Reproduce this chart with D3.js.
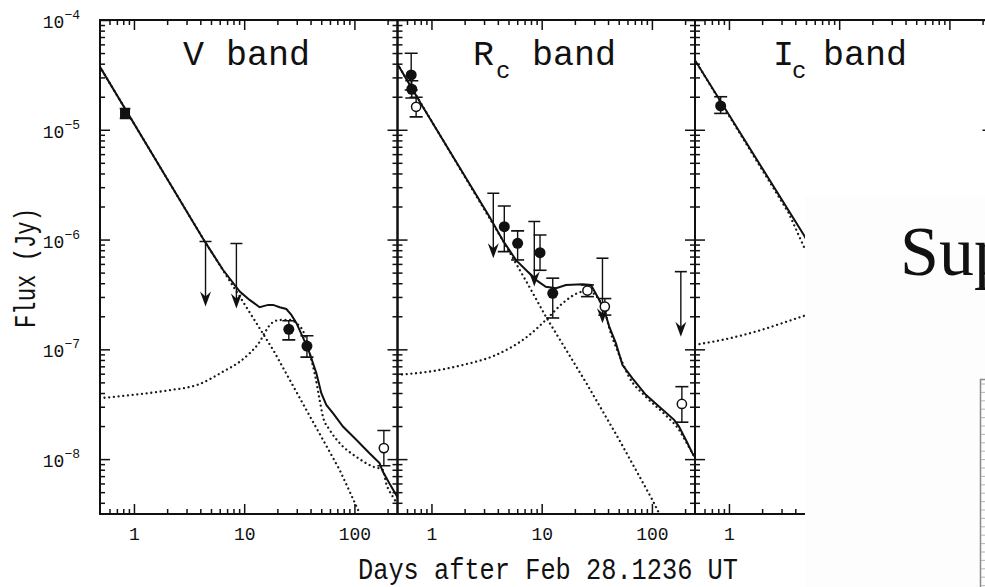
<!DOCTYPE html>
<html><head><meta charset="utf-8">
<script src="https://cdn.jsdelivr.net/npm/d3@7"></script>
<style>body{margin:0;background:#fff}svg{display:block}</style>
</head><body>
<svg id="c" width="985" height="587"></svg>
<script>
// ---------------- data (days after Feb 28.1236 UT, flux in Jy) ----------------
const xTickMajor = [1, 10, 100];
const xTickMinor = [0.6,0.7,0.8,0.9,2,3,4,5,6,7,8,9,20,30,40,50,60,70,80,90,200];
const yTickExp = [-4, -5, -6, -7, -8];

// V band
const vTotal = [[0.49,3.76e-5],[4.40,9.57e-7],[6.44,5.28e-7],[9.12,3.36e-7],[11.2,2.82e-7],[13.8,2.42e-7],[16.5,2.54e-7],[18.3,2.54e-7],[21.0,2.42e-7],[24.1,2.33e-7],[26.8,2.06e-7],[29.8,1.73e-7],[35.4,1.18e-7],[39.3,9.2e-8],[45.2,6.05e-8],[50.1,3.98e-8],[55.6,3.12e-8],[63.9,2.62e-8],[78.7,1.98e-8],[104,1.50e-8],[137,1.13e-8],[169,9.2e-9],[181,7.7e-9],[208,6.0e-9],[246,4.5e-9]];
const vAfterglow = [[0.49,3.76e-5],[4.40,9.57e-7],[9.12,3.02e-7],[18.3,9.9e-8],[36.7,2.8e-8],[73.4,8.0e-9],[108,3.44e-9],[120,2.7e-9]];
const vSupernova = [[0.49,3.59e-8],[0.99,3.85e-8],[1.98,4.21e-8],[3.96,4.84e-8],[6.44,6.27e-8],[9.12,7.73e-8],[11.2,9.2e-8],[13.8,1.17e-7],[15.9,1.50e-7],[17.7,1.73e-7],[21.0,1.85e-7],[25.9,1.85e-7],[29.8,1.73e-7],[35.4,1.35e-7],[39.3,9.2e-8],[43.6,6.05e-8],[48.4,3.46e-8],[51.8,2.44e-8],[59.6,1.85e-8],[73.4,1.40e-8],[104,1.05e-8],[147,8.55e-9],[181,7.98e-9],[194,6.03e-9],[223,4.55e-9],[246,3.9e-9]];
const vDetections = [
  {t:0.83, f:1.41e-5, lo:1.27e-5, hi:1.56e-5, open:false, square:true},
  {t:25.4, f:1.52e-7, lo:1.22e-7, hi:1.82e-7, open:false},
  {t:37.1, f:1.07e-7, lo:8.5e-8,  hi:1.33e-7, open:false},
  {t:185,  f:1.26e-8, lo:8.7e-9,  hi:1.82e-8, open:true}
];
const vLimits = [[4.46,9.6e-7],[8.5,9.2e-7]];

// Rc band
const rTotal = [[0.49,4.0e-5],[0.834,1.62e-5],[3.35,1.62e-6],[4.42,9.9e-7],[5.85,6.5e-7],[7.72,4.93e-7],[8.87,4.29e-7],[10.9,3.72e-7],[13.5,3.6e-7],[16.6,3.86e-7],[23.5,3.92e-7],[28.0,3.86e-7],[32.1,3.02e-7],[36.9,2.29e-7],[41.0,1.61e-7],[47.1,1.14e-7],[54.1,7.2e-8],[66.6,5.45e-8],[88.1,3.85e-8],[116,3.01e-8],[159,2.28e-8],[176,1.98e-8],[203,1.50e-8],[233,1.13e-8],[246,1.05e-8]];
const rAfterglow = [[0.49,4.0e-5],[4.42,9.9e-7],[7.72,3.72e-7],[10.9,1.99e-7],[25.2,5.0e-8],[50.5,1.50e-8],[101,4.25e-9],[120,3.0e-9]];
const rSupernova = [[0.49,5.85e-8],[0.96,6.27e-8],[1.92,7.2e-8],[3.86,8.9e-8],[7.72,1.35e-7],[10.9,1.85e-7],[15.5,2.63e-7],[21.9,3.30e-7],[26.0,3.40e-7],[33.2,2.82e-7],[37.7,2.19e-7],[41.0,1.57e-7],[50.5,8.9e-8],[62.1,5.6e-8],[88.1,3.7e-8],[134,2.5e-8],[176,1.85e-8],[203,1.45e-8],[246,1.02e-8]];
const rDetections = [
  {t:0.655, f:3.16e-5, lo:2.3e-5,  hi:4.98e-5, open:false},
  {t:0.663, f:2.34e-5, lo:1.95e-5, hi:2.8e-5,  open:false},
  {t:0.726, f:1.62e-5, lo:1.31e-5, hi:1.98e-5, open:true},
  {t:4.58,  f:1.31e-6, lo:7.76e-7, hi:2.02e-6, open:false},
  {t:6.05,  f:9.25e-7, lo:6.52e-7, hi:1.20e-6, open:false},
  {t:9.66,  f:7.6e-7,  lo:5.25e-7, hi:1.10e-6, open:false},
  {t:12.6,  f:3.24e-7, lo:1.93e-7, hi:4.45e-7, open:false},
  {t:26.0,  f:3.43e-7, lo:3.02e-7, hi:3.86e-7, open:true},
  {t:37.4,  f:2.45e-7, lo:2.05e-7, hi:2.9e-7,  open:true},
  {t:187,   f:3.18e-8, lo:2.17e-8, hi:4.57e-8, open:true}
];
const rLimits = [[3.64,2.64e-6],[8.57,1.46e-6],[35.6,6.76e-7],[183,5.1e-7]];

// Ic band
const iTotal = [[0.49,4.33e-5],[4.78,1.10e-6],[5.5,8.5e-7]];
const iAfterglow = [[0.49,4.33e-5],[3.49,1.74e-6],[4.78,8.6e-7],[5.5,6.6e-7]];
const iSupernova = [[0.49,1.10e-7],[0.87,1.22e-7],[1.75,1.45e-7],[3.04,1.73e-7],[4.61,1.99e-7],[5.5,2.1e-7]];
const iDetections = [{t:0.841, f:1.65e-5, lo:1.41e-5, hi:2.0e-5, open:false}];
const iLimits = [];

const bandNames = [['V',''], ['R','c'], ['I','c']];

// ---------------- layout ----------------
const svg = d3.select('#c');
const panelLeft = [100, 397.5, 695], panelW = 297.5, yTop = 20, yBot = 514;
const MONO = "'Liberation Mono','Courier New',monospace";
const INK = '#111';
const y = d3.scaleLog().domain([Math.pow(10,-8.5), 1e-4]).range([yBot, yTop]);
const xs = panelLeft.map(l => d3.scaleLog().domain([0.492, 246]).range([l, l + panelW]));

const bands = [
  {total:vTotal, ag:vAfterglow, sn:vSupernova, det:vDetections, lim:vLimits},
  {total:rTotal, ag:rAfterglow, sn:rSupernova, det:rDetections, lim:rLimits},
  {total:iTotal, ag:iAfterglow, sn:iSupernova, det:iDetections, lim:iLimits}
];

const defs = svg.append('defs');
bands.forEach((b, i) => {
  defs.append('clipPath').attr('id', 'clip' + i).append('rect')
    .attr('x', panelLeft[i]).attr('y', yTop).attr('width', panelW).attr('height', yBot - yTop);
});

bands.forEach((b, i) => {
  const x = xs[i];
  const g = svg.append('g').attr('clip-path', `url(#clip${i})`);
  const line = d3.line().x(d => x(d[0])).y(d => y(d[1]));
  const smooth = d3.line().x(d => x(d[0])).y(d => y(d[1])).curve(d3.curveMonotoneX);
  [line(b.ag), smooth(b.sn)].forEach(dd => g.append('path').attr('d', dd).attr('fill','none')
     .attr('stroke','#1a1a1a').attr('stroke-width',2.3).attr('stroke-linecap','round')
     .attr('stroke-dasharray','0.01,4.7'));
  g.append('path').attr('d', line(b.total)).attr('fill','none').attr('stroke',INK).attr('stroke-width',2);

  b.lim.forEach(l => {
    const cx = x(l[0]), cy = y(l[1]), len = 65;
    g.append('line').attr('x1',cx).attr('x2',cx).attr('y1',cy).attr('y2',cy+len-4).attr('stroke',INK).attr('stroke-width',1.4);
    g.append('line').attr('x1',cx-6).attr('x2',cx+6).attr('y1',cy).attr('y2',cy).attr('stroke',INK).attr('stroke-width',1.6);
    g.append('path').attr('d',`M${cx},${cy+len} L${cx-5.5},${cy+len-15} L${cx},${cy+len-10} L${cx+5.5},${cy+len-15} Z`).attr('fill',INK);
  });
  b.det.forEach(p => {
    const cx = x(p.t), cy = y(p.f);
    const cw = p.square ? 5.3 : 6.5;
    g.append('line').attr('x1',cx).attr('x2',cx).attr('y1',y(p.lo)).attr('y2',y(p.hi)).attr('stroke',INK).attr('stroke-width',1.4);
    [p.lo, p.hi].forEach(v => g.append('line').attr('x1',cx-cw).attr('x2',cx+cw).attr('y1',y(v)).attr('y2',y(v)).attr('stroke',INK).attr('stroke-width',1.6));
    if (p.square) {
      g.append('rect').attr('x',cx-5).attr('y',cy-5).attr('width',10).attr('height',10).attr('fill',INK);
    } else {
      g.append('circle').attr('cx',cx).attr('cy',cy).attr('r', p.open ? 4.6 : 5.5)
        .attr('fill', p.open ? '#fff' : INK).attr('stroke',INK).attr('stroke-width', p.open ? 1.5 : 0);
    }
  });
});

const yMinor = [];
for (let e = -9; e <= -5; e++) for (let m = 2; m <= 9; m++) { const v = m * Math.pow(10, e); if (v >= y.domain()[0] && v <= 1e-4) yMinor.push(v); }
const yMajor = yTickExp.map(e => Math.pow(10, e));

function styleAxis(g) {
  g.select('.domain').remove();
  g.selectAll('.tick line').attr('stroke',INK).attr('stroke-width',1.5);
  g.attr('font-family', MONO).attr('font-size', 18);
  g.selectAll('.tick text').attr('fill',INK);
}

bands.forEach((b, i) => {
  const x = xs[i], l = panelLeft[i], r = l + panelW;
  svg.append('g').attr('transform',`translate(0,${yBot})`)
    .call(d3.axisBottom(x).tickValues(xTickMajor).tickSizeInner(-10).tickSizeOuter(0).tickPadding(13).tickFormat(d3.format('d'))).call(styleAxis);
  svg.append('g').attr('transform',`translate(0,${yBot})`)
    .call(d3.axisBottom(x).tickValues(xTickMinor).tickSizeInner(-5).tickSizeOuter(0).tickFormat('')).call(styleAxis);
  svg.append('g').attr('transform',`translate(0,${yTop})`)
    .call(d3.axisTop(x).tickValues(xTickMajor).tickSizeInner(-10).tickSizeOuter(0).tickFormat('')).call(styleAxis);
  svg.append('g').attr('transform',`translate(0,${yTop})`)
    .call(d3.axisTop(x).tickValues(xTickMinor).tickSizeInner(-5).tickSizeOuter(0).tickFormat('')).call(styleAxis);
  svg.append('g').attr('transform',`translate(${l},0)`)
    .call(d3.axisLeft(y).tickValues(yMajor).tickSizeInner(-10).tickSizeOuter(0).tickFormat('')).call(styleAxis);
  svg.append('g').attr('transform',`translate(${l},0)`)
    .call(d3.axisLeft(y).tickValues(yMinor).tickSizeInner(-5).tickSizeOuter(0).tickFormat('')).call(styleAxis);
  svg.append('g').attr('transform',`translate(${r},0)`)
    .call(d3.axisRight(y).tickValues(yMajor).tickSizeInner(-10).tickSizeOuter(0).tickFormat('')).call(styleAxis);
  svg.append('g').attr('transform',`translate(${r},0)`)
    .call(d3.axisRight(y).tickValues(yMinor).tickSizeInner(-5).tickSizeOuter(0).tickFormat('')).call(styleAxis);
  svg.append('rect').attr('x',l).attr('y',yTop).attr('width',panelW).attr('height',yBot-yTop)
    .attr('fill','none').attr('stroke',INK).attr('stroke-width',2);
});

yTickExp.forEach(e => {
  const t = svg.append('text').attr('x', 80).attr('y', y(Math.pow(10,e)) + 8)
    .attr('text-anchor','end').attr('font-family',MONO).attr('fill',INK);
  t.append('tspan').attr('font-size',18).text('10');
  t.append('tspan').attr('font-size',13).attr('dy',-9).text('\u2212' + Math.abs(e));
});

// panel labels: letter, subscript, "band" in one text element each
const labelPos = [{x:183, bx:226}, {x:473, sx:496, bx:532}, {x:773, sx:792, bx:823}];
bandNames.forEach((nm, i) => {
  const p = labelPos[i];
  const t = svg.append('text').attr('x', p.x).attr('y', 65).attr('font-family', MONO).attr('font-size', 35).attr('fill', INK);
  t.append('tspan').text(nm[0]);
  if (nm[1]) {
    t.append('tspan').attr('x', p.sx).attr('dy', 13).attr('font-size', 24).text(nm[1]);
    t.append('tspan').attr('x', p.bx).attr('dy', -13).text('band');
  } else {
    t.append('tspan').attr('x', p.bx).text('band');
  }
});

svg.append('text').attr('x', 358).attr('y', 579).attr('font-family',MONO).attr('font-size',29)
  .attr('textLength',380).attr('lengthAdjust','spacingAndGlyphs').attr('fill',INK).text('Days after Feb 28.1236 UT');
svg.append('text').attr('transform','translate(35,268) rotate(-90)').attr('text-anchor','middle')
  .attr('font-family',MONO).attr('font-size',29).attr('textLength',120).attr('lengthAdjust','spacingAndGlyphs')
  .attr('fill',INK).text('Flux (Jy)');

// slide overlay on the right (covers the clipped rest of the I-band panel)
svg.append('rect').attr('x',805).attr('y',196).attr('width',180).attr('height',391).attr('fill','#fdfdfd');
svg.append('text').attr('x',900).attr('y',275).attr('font-family',"'Liberation Serif','Times New Roman',serif")
  .attr('font-size',70).attr('fill',INK).text('Sup');
const gb = svg.append('g');
gb.append('path').attr('d','M980.5,587 V379.5 H985').attr('fill','none').attr('stroke','#8a8a8a').attr('stroke-width',1.5);
d3.range(384, 587, 8.4).forEach(v => gb.append('line').attr('x1',981).attr('x2',985).attr('y1',v).attr('y2',v).attr('stroke','#b5b5b5').attr('stroke-width',1));
</script>
</body></html>
